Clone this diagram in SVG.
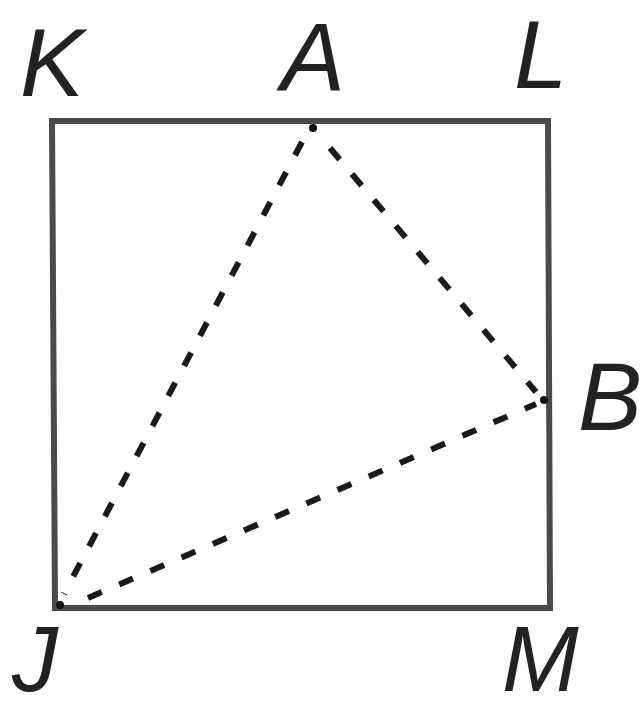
<svg xmlns="http://www.w3.org/2000/svg" width="644" height="712" viewBox="0 0 644 712">
<style>
.lbl{font-family:"Liberation Sans",Arial,sans-serif;font-style:italic;font-size:96px;fill:#222}
.low{font-size:92px}
.edge{stroke:#4a4a4a;stroke-width:6;fill:none}
.dash{stroke:#1a1a1a;stroke-width:6;fill:none;stroke-dasharray:15 19}
.pt{fill:#111}
</style>
<rect width="644" height="712" fill="#fff"/>
<g id="square">
<path class="edge" d="M52 121 L548 121 L550 608 L55 608 Z"/>
</g>
<g id="connectors">
<line class="dash" x1="302" y1="142" x2="64" y2="594"/>
<line class="dash" x1="330" y1="148" x2="536" y2="392"/>
<line class="dash" x1="88" y1="598" x2="536" y2="404"/>
</g>
<g id="A"><circle class="pt" cx="313" cy="128" r="4"/><text class="lbl" x="281" y="90">A</text></g>
<g id="B"><circle class="pt" cx="544" cy="400" r="4"/><text class="lbl" x="578" y="430">B</text></g>
<g id="J"><circle class="pt" cx="60" cy="605" r="4"/><text class="lbl low" x="12" y="691">J</text></g>
<g id="K"><text class="lbl" x="20" y="96">K</text></g>
<g id="L"><text class="lbl" x="514" y="88">L</text></g>
<g id="M"><text class="lbl low" x="502" y="691">M</text></g>
</svg>
